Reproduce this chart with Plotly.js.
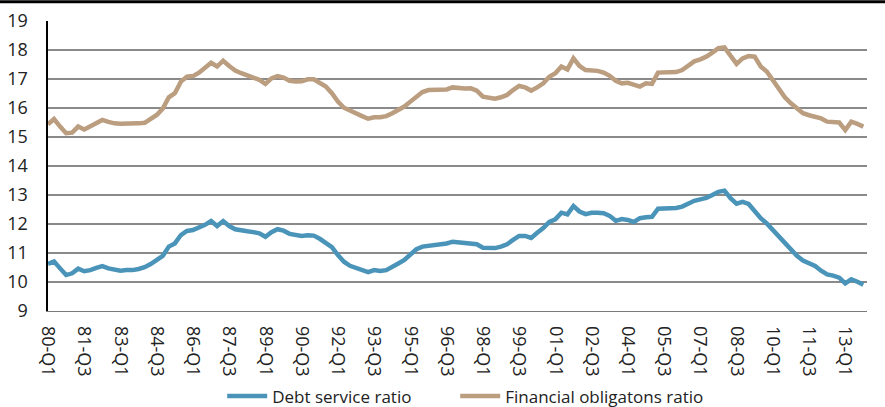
<!DOCTYPE html>
<html>
<head>
<meta charset="utf-8">
<script src="https://cdn.plot.ly/plotly-3.0.1.min.js"></script>
<style>
  html, body { margin: 0; padding: 0; background: #fff; }
  #chart { width: 885px; height: 407px; }
</style>
</head>
<body>
<div id="chart"></div>
<script>
// Quarterly data, 1980-Q1 .. 2013-Q4
const startYear = 80;
const nQuarters = 136;

const debtServiceRatio = [
  10.62, 10.71, 10.47, 10.24, 10.30, 10.46, 10.37, 10.41, 10.49, 10.55,
  10.47, 10.41, 10.39, 10.41, 10.41, 10.45, 10.51, 10.62, 10.74, 10.90,
  11.22, 11.33, 11.62, 11.76, 11.79, 11.87, 11.97, 12.10, 11.93, 12.10,
  11.93, 11.82, 11.77, 11.75, 11.72, 11.68, 11.56, 11.72, 11.82, 11.77,
  11.66, 11.61, 11.59, 11.61, 11.60, 11.49, 11.36, 11.20, 10.93, 10.70,
  10.56, 10.48, 10.41, 10.34, 10.41, 10.38, 10.41, 10.51, 10.64, 10.76,
  10.93, 11.13, 11.22, 11.25, 11.26, 11.29, 11.33, 11.39, 11.36, 11.33,
  11.33, 11.30, 11.18, 11.17, 11.17, 11.22, 11.30, 11.45, 11.59, 11.59,
  11.52, 11.70, 11.86, 12.07, 12.16, 12.39, 12.33, 12.62, 12.43, 12.34,
  12.39, 12.39, 12.37, 12.28, 12.11, 12.17, 12.14, 12.07, 12.20, 12.23,
  12.25, 12.53, 12.53, 12.56, 12.55, 12.60, 12.71, 12.80, 12.85, 12.90,
  13.00, 13.11, 13.15, 12.89, 12.70, 12.76, 12.69, 12.43, 12.20, 12.02,
  11.79, 11.56, 11.31, 11.10, 10.90, 10.74, 10.64, 10.55, 10.39, 10.26,
  10.22, 10.15, 9.95, 10.09, 10.01, 9.91
];

const financialObligationsRatio = [
  15.44, 15.62, 15.36, 15.13, 15.15, 15.36, 15.26, 15.38, 15.51, 15.59,
  15.52, 15.47, 15.46, 15.46, 15.45, 15.47, 15.49, 15.61, 15.76, 15.98,
  16.37, 16.51, 16.91, 17.08, 17.10, 17.22, 17.37, 17.56, 17.43, 17.63,
  17.45, 17.29, 17.20, 17.13, 17.06, 16.97, 16.83, 17.02, 17.10, 17.05,
  16.94, 16.91, 16.92, 16.99, 16.99, 16.87, 16.74, 16.51, 16.22, 16.01,
  15.90, 15.82, 15.72, 15.63, 15.68, 15.68, 15.72, 15.82, 15.93, 16.05,
  16.22, 16.41, 16.55, 16.62, 16.62, 16.61, 16.64, 16.71, 16.68, 16.67,
  16.68, 16.60, 16.39, 16.34, 16.32, 16.37, 16.45, 16.62, 16.76, 16.71,
  16.60, 16.71, 16.85, 17.08, 17.20, 17.43, 17.33, 17.71, 17.45, 17.31,
  17.31, 17.28, 17.22, 17.11, 16.94, 16.85, 16.87, 16.80, 16.74, 16.85,
  16.83, 17.22, 17.23, 17.24, 17.24, 17.31, 17.46, 17.61, 17.68, 17.77,
  17.91, 18.06, 18.09, 17.83, 17.52, 17.71, 17.79, 17.77, 17.43, 17.26,
  16.97, 16.68, 16.37, 16.16, 15.98, 15.82, 15.75, 15.70, 15.64, 15.53,
  15.51, 15.50, 15.24, 15.53, 15.45, 15.36
];

const tickLabels = [
  '80-Q1','81-Q3','83-Q1','84-Q3','86-Q1','87-Q3','89-Q1','90-Q3',
  '92-Q1','93-Q3','95-Q1','96-Q3','98-Q1','99-Q3','01-Q1','02-Q3',
  '04-Q1','05-Q3','07-Q1','08-Q3','10-Q1','11-Q3','13-Q1'
];

const seriesNames = ['Debt service ratio', 'Financial obligatons ratio'];
const seriesColors = ['#4b94b9', '#bb9d80'];

// category labels (quarter names)
const quarters = [];
for (let i = 0; i < nQuarters; i++) {
  const yy = (startYear + Math.floor(i / 4)) % 100;
  quarters.push(String(yy).padStart(2, '0') + '-Q' + (i % 4 + 1));
}

const font = 'Open Sans, Noto Sans, sans-serif';

const traces = [
  {
    x: quarters, y: debtServiceRatio, type: 'scatter', mode: 'lines',
    name: seriesNames[0], line: { color: seriesColors[0], width: 4.5 },
    legendwidth: 178
  },
  {
    x: quarters, y: financialObligationsRatio, type: 'scatter', mode: 'lines',
    name: seriesNames[1], line: { color: seriesColors[1], width: 4.5 }
  }
];

const layout = {
  width: 885, height: 407,
  margin: { l: 48, r: 18, t: 21, b: 96, pad: 0, autoexpand: false },
  paper_bgcolor: '#ffffff', plot_bgcolor: '#ffffff',
  font: { family: font, size: 17, color: '#222222' },
  showlegend: true,
  legend: {
    orientation: 'h', x: 0.51, xanchor: 'center', y: -0.295, yanchor: 'middle',
    font: { family: font, size: 17, color: '#222222' },
    itemwidth: 40, traceorder: 'normal'
  },
  xaxis: {
    type: 'category',
    automargin: false,
    range: [0, 135.6],
    tickmode: 'array', tickvals: tickLabels, ticktext: tickLabels,
    tickangle: 90,
    showgrid: false, zeroline: false,
    showline: true, linecolor: '#7a7a7a', linewidth: 1.3,
    ticks: '', ticklabelstandoff: 10,
    tickfont: { family: font, size: 18, color: '#222222' },
    fixedrange: true
  },
  yaxis: {
    automargin: false,
    range: [9, 19],
    tickmode: 'linear', tick0: 9, dtick: 1,
    showgrid: true, gridcolor: '#8a8a8a', gridwidth: 1.3,
    zeroline: false,
    showline: true, linecolor: '#000000', linewidth: 2.5,
    ticks: '', ticklabelstandoff: 14,
    tickfont: { family: font, size: 18, color: '#222222' },
    fixedrange: true
  },
  shapes: [
    {
      type: 'line', xref: 'paper', yref: 'paper',
      x0: -0.06, x1: 1.03, y0: 1.066, y1: 1.066,
      line: { color: '#000000', width: 3 }
    }
  ]
};

Plotly.newPlot('chart', traces, layout, { displayModeBar: false, staticPlot: true });
</script>
</body>
</html>
